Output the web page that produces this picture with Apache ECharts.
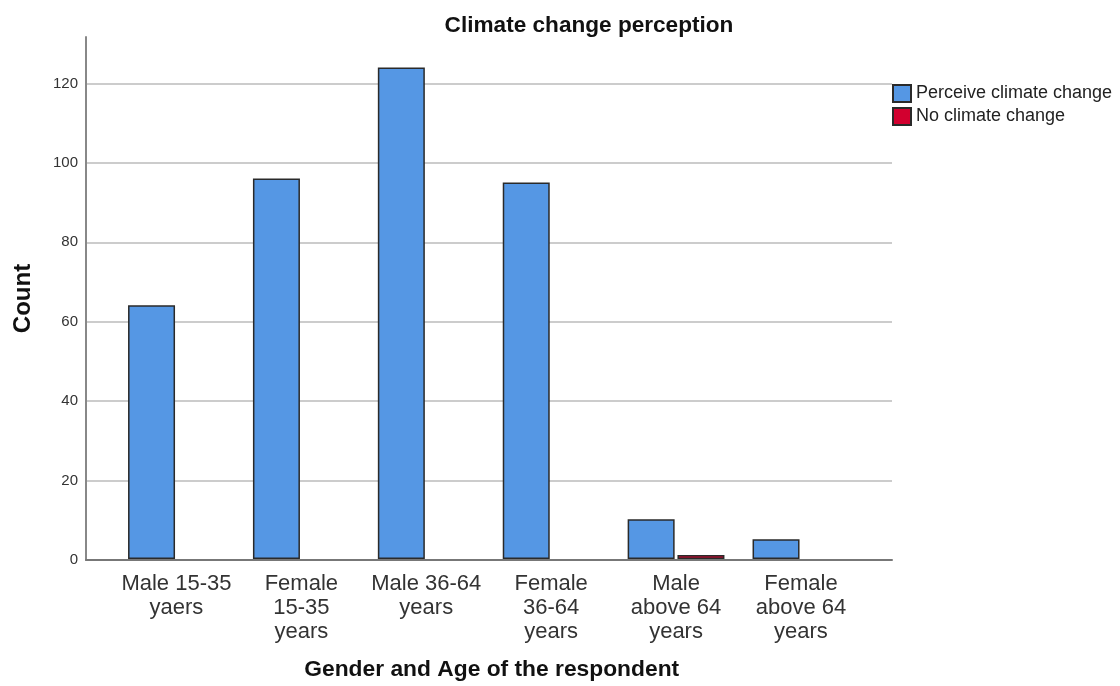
<!DOCTYPE html>
<html>
<head>
<meta charset="utf-8">
<script src="https://cdn.jsdelivr.net/npm/echarts@6/dist/echarts.min.js"></script>
<style>html,body{margin:0;padding:0;background:#fff}#c{width:1120px;height:686px}</style>
</head>
<body>
<div id="c"></div>
<script>
var categories = ["Male 15-35\nyaers", "Female\n15-35\nyears", "Male 36-64\nyears", "Female\n36-64\nyears", "Male\nabove 64\nyears", "Female\nabove 64\nyears"];
var perceive = [64, 96, 124, 95, 10, 5];
var noChange = [0, 0, 0, 0, 1, 0];
var yTicks = [0, 20, 40, 60, 80, 100, 120];

var chart = echarts.init(document.getElementById('c'));
var FONT = 'Liberation Sans, Arial, sans-serif';
var YMAX = 131.7;
chart.setOption({
  animation: false,
  title: {
    text: 'Climate change perception', left: 584, top: 9, textAlign: 'center',
    textStyle: { fontFamily: FONT, fontSize: 22.6, fontWeight: 'bold', color: '#111' }
  },
  legend: {
    orient: 'vertical', left: 887, top: 79, itemWidth: 18, itemHeight: 17, itemGap: 4,
    icon: 'rect',
    textStyle: { fontFamily: FONT, fontSize: 18, color: '#222', lineHeight: 17 },
    data: ['Perceive climate change', 'No climate change']
  },
  grid: [
    { left: 86, right: 228, top: 37, bottom: 126 },
    { left: 114, right: 256.6, top: 37, bottom: 126 }
  ],
  xAxis: [
    { type: 'category', gridIndex: 0, data: categories, axisLine: { lineStyle: { color: '#777', width: 2 } },
      axisTick: { show: false }, axisLabel: { show: false }, splitLine: { show: false } },
    { type: 'category', gridIndex: 1, data: categories,
      axisLine: { show: false }, axisTick: { show: false },
      axisLabel: { fontFamily: FONT, fontSize: 22, color: '#333', lineHeight: 24, margin: 13, interval: 0 },
      name: 'Gender and Age of the respondent', nameLocation: 'middle', nameGap: 99,
      nameTextStyle: { fontFamily: FONT, fontSize: 22.8, fontWeight: 'bold', color: '#111', padding: [0, 0, 0, 6] } }
  ],
  yAxis: [
    { type: 'value', gridIndex: 0, min: 0, max: YMAX, interval: 20,
      axisLine: { show: true, lineStyle: { color: '#888', width: 2 } }, axisTick: { show: false },
      axisLabel: { fontFamily: FONT, fontSize: 15, color: '#333', margin: 8, showMaxLabel: false,
        formatter: function (v) { return yTicks.indexOf(v) >= 0 ? String(v) : ''; } },
      splitLine: { show: true, showMaxLine: false, lineStyle: { color: '#ccc', width: 2 } },
      name: 'Count', nameLocation: 'middle', nameGap: 51,
      nameTextStyle: { fontFamily: FONT, fontSize: 24, fontWeight: 'bold', color: '#111' } },
    { type: 'value', gridIndex: 1, min: 0, max: YMAX, interval: 20, show: false, splitLine: { show: false } }
  ],
  series: [
    { name: 'Perceive climate change', type: 'bar', xAxisIndex: 1, yAxisIndex: 1, data: perceive,
      barWidth: 47, barGap: '6%',
      itemStyle: { color: '#5597E4', borderColor: '#2a2a2a', borderWidth: 1.5 } },
    { name: 'No climate change', type: 'bar', xAxisIndex: 1, yAxisIndex: 1,
      data: noChange.map(function (v) { return v === 0 ? null : v; }),
      barWidth: 47,
      itemStyle: { color: '#D2002F', borderColor: '#2a2a2a', borderWidth: 1.5 } }
  ]
});
</script>
</body>
</html>
